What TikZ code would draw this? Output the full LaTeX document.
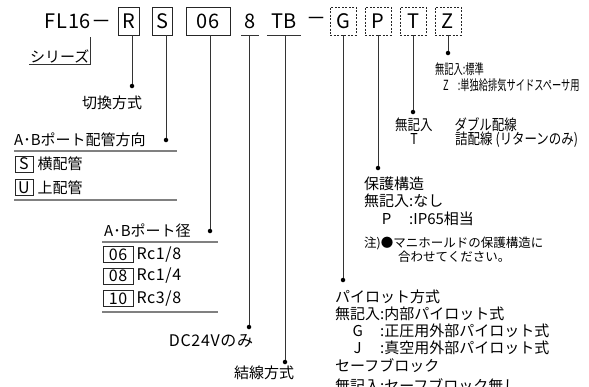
\documentclass[tikz,border=0pt]{standalone}
\usepackage{fontspec}
\setmainfont{Noto Sans CJK JP}
\newfontfamily\jpwide[LetterSpace=4]{Noto Sans CJK JP}
\newfontfamily\jpnarrow[FakeStretch=0.83]{Noto Sans CJK JP}
\newfontfamily\jpcond[FakeStretch=0.66]{Noto Sans CJK JP}
\usetikzlibrary{positioning}

\begin{document}
\begin{tikzpicture}[x=1pt, y=-1pt, node distance=3pt,
  cbox/.style = {draw=black!85, line width=0.7pt, minimum width=#1, minimum height=28, inner sep=0pt, font=\jpwide\fontsize{20}{20}\selectfont},
  dbox/.style = {cbox=26, dash pattern=on 2pt off 1.5pt},
  ubox/.style = {minimum width=#1, minimum height=28, inner sep=0pt, font=\jpwide\fontsize{20}{20}\selectfont},
  kbox/.style = {draw=black!85, line width=0.6pt, minimum width=#1, minimum height=16, inner sep=0pt, font=\jpwide\fontsize{16}{16}\selectfont},
  lbl/.style = {anchor=west, inner sep=0pt, font=\fontsize{15}{15}\selectfont},
  lat/.style = {lbl, font=\jpwide\fontsize{16}{16}\selectfont},
  note/.style = {lbl, font=\fontsize{12.5}{12.5}\selectfont},
  nar/.style = {lbl, font=\jpnarrow\fontsize{15}{15}\selectfont},
  cond/.style = {lbl, font=\jpcond\fontsize{14}{14}\selectfont},
  dot/.style = {circle, fill=black, inner sep=0pt, minimum size=4.5pt},
  lead/.style = {draw=black!80, line width=0.8pt},
  rule/.style = {draw=black!50, line width=1.3pt}]
  \useasboundingbox (0,0) rectangle (589,386);

  \node[ubox=72, anchor=west] (fl) at (42,21) {FL16－};
  \node[cbox=21] (bR) at (128.5,21) {R};
  \node[cbox=20] (bS) at (162.5,21) {S};
  \node[cbox=44] (b06) at (208,21) {06};
  \node[ubox=17] (b8) at (250,21) {8};
  \node[ubox=34] (bTB) at (284,21) {TB};
  \node[ubox=16] (dash) at (316,21) {－};
  \node[dbox] (bG) at (343,21) {G};
  \node[dbox] (bP) at (378,21) {P};
  \node[dbox] (bT) at (413,21) {T};
  \node[dbox] (bZ) at (448,21) {Z};
  \draw[lead] (b8.south west) -- (b8.south east);
  \draw[lead] (bTB.south west) -- (bTB.south east);

  \node[lbl, anchor=south west, inner sep=1pt] (ser) at (29,64) {シリーズ};
  \draw[lead] (ser.south west) -- (ser.south east) -- ++(0,-27);

  \node[dot] (dR) at (132,86) {};
  \node[dot] (dS) at (166,140) {};
  \node[dot] (d06) at (210,231) {};
  \node[dot] (d8) at (249,327) {};
  \node[dot] (dTB) at (285,362) {};
  \node[dot] (dG) at (343,280) {};
  \node[dot] (dP) at (378,168) {};
  \node[dot] (dT) at (413,112) {};
  \node[dot] (dZ) at (448,53) {};

  \draw[lead] (dR |- bR.south) -- (dR);
  \draw[lead] (dS |- bS.south) -- (dS);
  \draw[lead] (d06 |- b06.south) -- (d06);
  \draw[lead] (d8 |- b8.south) -- (d8);
  \draw[lead] (dTB |- bTB.south) -- (dTB);
  \draw[lead] (dG |- bG.south) -- (dG);
  \draw[lead] (dP |- bP.south) -- (dP);
  \draw[lead] (dT |- bT.south) -- (dT);
  \draw[lead] (dZ |- bZ.south) -- (dZ);

  \node[lbl, anchor=center] (tR) at (112,103) {切換方式};

  \node[lbl] (hS) at (14,140) {A･Bポート配管方向};
  \draw[rule] (14,151) -- (177,151);
  \node[kbox=18] (kS) at (24,164) {S};
  \node[lbl, right=4pt of kS] (tS) {横配管};
  \node[kbox=18] (kU) at (24,187.5) {U};
  \node[lbl, right=4pt of kU] (tU) {上配管};
  \draw[rule] (14,200) -- (177,200);

  \node[lbl] (h06) at (104,231) {A･Bポート径};
  \draw[rule] (102,242) -- (218,242);
  \node[kbox=30] (k06) at (118,254.5) {06};
  \node[lat, right=of k06] (r06) {Rc1/8};
  \node[kbox=30] (k08) at (118,276) {08};
  \node[lat, right=of k08] (r08) {Rc1/4};
  \node[kbox=30] (k10) at (118,298.5) {10};
  \node[lat, right=of k10] (r10) {Rc3/8};
  \draw[rule] (102,312) -- (218,312);

  \node[lat, anchor=center] (t8) at (211,341) {DC24Vのみ};
  \node[lbl, anchor=center] (tTB) at (264,372.5) {結線方式};

  \node[cond] (z1) at (435,69) {無記入:標準};
  \node[cond] (z2) at (443,85) {Z\hspace{9pt}:単独給排気サイドスペーサ用};

  \node[nar] (t1) at (395,125) {無記入\hspace{22pt}ダブル配線};
  \node[nar] (t2) at (395,140) {\makebox[38pt]{T}\hspace{22pt}詰配線\hspace{3pt}(リターンのみ)};

  \node[lbl] (p1) at (364,184) {保護構造};
  \node[lbl] (p2) at (364,201) {無記入:なし};
  \node[lbl] (p3) at (364,219) {\makebox[45pt]{P}:IP65相当};
  \node[note] (p4) at (364,243) {注)●マニホールドの保護構造に};
  \node[note] (p5) at (398,257) {合わせてください。};

  \node[lbl] (g1) at (335,297) {パイロット方式};
  \node[lbl] (g2) at (335,314) {無記入:内部パイロット式};
  \node[lbl] (g3) at (335,331) {\makebox[45pt]{G}:正圧用外部パイロット式};
  \node[lbl] (g4) at (335,348) {\makebox[45pt]{J}:真空用外部パイロット式};
  \node[lbl] (g5) at (335,366) {セーフブロック};
  \node[lbl] (g6) at (335,386) {無記入:セーフブロック無し};
\end{tikzpicture}
\end{document}
